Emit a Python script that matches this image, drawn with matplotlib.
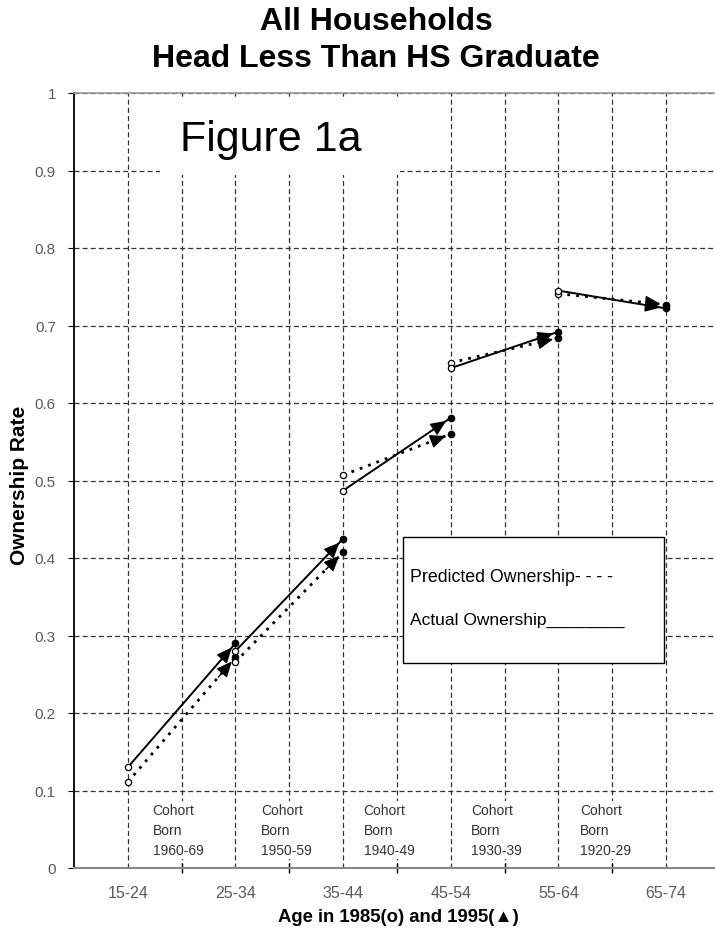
import matplotlib
matplotlib.use("Agg")
import matplotlib.pyplot as plt
from matplotlib.patches import Rectangle
import numpy as np

plt.rcParams['font.family'] = ['Liberation Sans', 'DejaVu Sans']

# ---- data ----
ages = ['15-24', '25-34', '35-44', '45-54', '55-64', '65-74']
cohorts = ['1960-69', '1950-59', '1940-49', '1930-39', '1920-29']
actual_1985 = [0.130, 0.280, 0.487, 0.645, 0.745]
actual_1995 = [0.290, 0.425, 0.581, 0.692, 0.722]
pred_1985 = [0.111, 0.266, 0.507, 0.652, 0.741]
pred_1995 = [0.272, 0.408, 0.560, 0.684, 0.727]
y_ticks = [0, 0.1, 0.2, 0.3, 0.4, 0.5, 0.6, 0.7, 0.8, 0.9, 1]

W, H = 715, 937
fig = plt.figure(figsize=(W / 100, H / 100), dpi=100)
L, R, T, B = 74, 720, 94, 869
ax = fig.add_axes([L / W, 1 - B / H, (R - L) / W, (B - T) / H])

ax.set_xlim(-0.5, 5.5)
ax.set_ylim(0, 1)
ax.set_axisbelow(True)

# ticks
ax.set_xticks(range(len(ages)))
ax.set_xticklabels(ages)
ax.set_xticks(np.arange(0.5, len(ages) - 1, 1.0), minor=True)
ax.tick_params(axis='x', which='major', length=0, pad=12, labelsize=11.5, labelcolor='#5a5a5a')
ax.tick_params(axis='x', which='minor', direction='inout', length=7, width=1, color='black')
ax.set_yticks(y_ticks)
ax.set_yticklabels([('%g' % v) for v in y_ticks])
ax.tick_params(axis='y', which='major', direction='out', length=4, width=0.8, pad=9,
               labelsize=11, labelcolor='#5a5a5a', color='black')

# grid
grid_kw = dict(color='#333333', linewidth=0.9, linestyle=(0, (4, 2.5)))
ax.grid(True, which='major', axis='both', **grid_kw)
ax.grid(True, which='minor', axis='x', **grid_kw)

# spines
ax.spines['right'].set_visible(False)
ax.spines['top'].set_color('#999999')
ax.spines['top'].set_linewidth(1.2)
ax.spines['bottom'].set_color('#888888')
ax.spines['bottom'].set_linewidth(1.5)
ax.spines['left'].set_color('black')
ax.spines['left'].set_linewidth(1.3)

# data lines
for i in range(len(cohorts)):
    x0, x1 = i, i + 1
    ax.plot([x0, x1], [pred_1985[i], pred_1995[i]], color='black', lw=2.0,
            linestyle=(0, (1.0, 2.2)), zorder=3)
    ax.plot([x0, x1], [actual_1985[i], actual_1995[i]], color='black', lw=1.4, zorder=3)
    for y0, y1 in [(pred_1985[i], pred_1995[i]), (actual_1985[i], actual_1995[i])]:
        ax.plot([x0], [y0], marker='o', ms=4.5, mfc='white', mec='black', mew=0.9, zorder=4)
        ax.plot([x1], [y1], marker='o', ms=4.5, mfc='black', mec='black', zorder=4)
        f = 0.84
        ax.annotate('', xy=(x1, y1), xytext=(x0 + f * (x1 - x0), y0 + f * (y1 - y0)),
                    arrowprops=dict(arrowstyle='-|>,head_length=0.95,head_width=0.42',
                                    color='black', lw=1, shrinkA=0, shrinkB=4,
                                    mutation_scale=10),
                    zorder=5)

# cohort labels
offs = [0.23, 0.24, 0.19, 0.19, 0.20]
for i, c in enumerate(cohorts):
    ax.text(i + offs[i], 0.084, 'Cohort\nBorn\n' + c, ha='left', va='top', fontsize=10,
            color='#333333', linespacing=1.55, zorder=6,
            bbox=dict(facecolor='white', edgecolor='none', pad=1.5))

# Figure 1a box
fig.patches.append(Rectangle((160 / W, 1 - 176 / H), 240 / W, 78 / H, transform=fig.transFigure,
                             facecolor='white', edgecolor='none', zorder=1))
fig.text(180 / W, 1 - 140 / H, 'Figure 1a', fontsize=31, ha='left', va='center', zorder=2)

# legend box
lx0, ly0, lx1, ly1 = 403, 538, 664, 664
fig.patches.append(Rectangle((lx0 / W, 1 - ly1 / H), (lx1 - lx0) / W, (ly1 - ly0) / H,
                             transform=fig.transFigure, facecolor='white', edgecolor='black',
                             linewidth=1.0, zorder=1))
fig.text(410 / W, 1 - 577 / H, 'Predicted Ownership- - - -', fontsize=12.8, ha='left', va='center')
fig.text(410 / W, 1 - 620 / H, 'Actual Ownership________', fontsize=12.5, ha='left', va='center')

# titles and labels
fig.text(376 / W, 1 - 22 / H, 'All Households', fontsize=23, fontweight='bold', ha='center', va='center')
fig.text(376 / W, 1 - 59 / H, 'Head Less Than HS Graduate', fontsize=23, fontweight='bold',
         ha='center', va='center')
fig.text(20 / W, 1 - 485 / H, 'Ownership Rate', fontsize=15, fontweight='bold', rotation=90,
         ha='center', va='center')
fig.text(398 / W, 1 - 918 / H, 'Age in 1985(o) and 1995(▲)', fontsize=13.3, fontweight='bold',
         ha='center', va='center', family=['Liberation Sans', 'DejaVu Sans'])

fig.savefig('out.png', dpi=100)
